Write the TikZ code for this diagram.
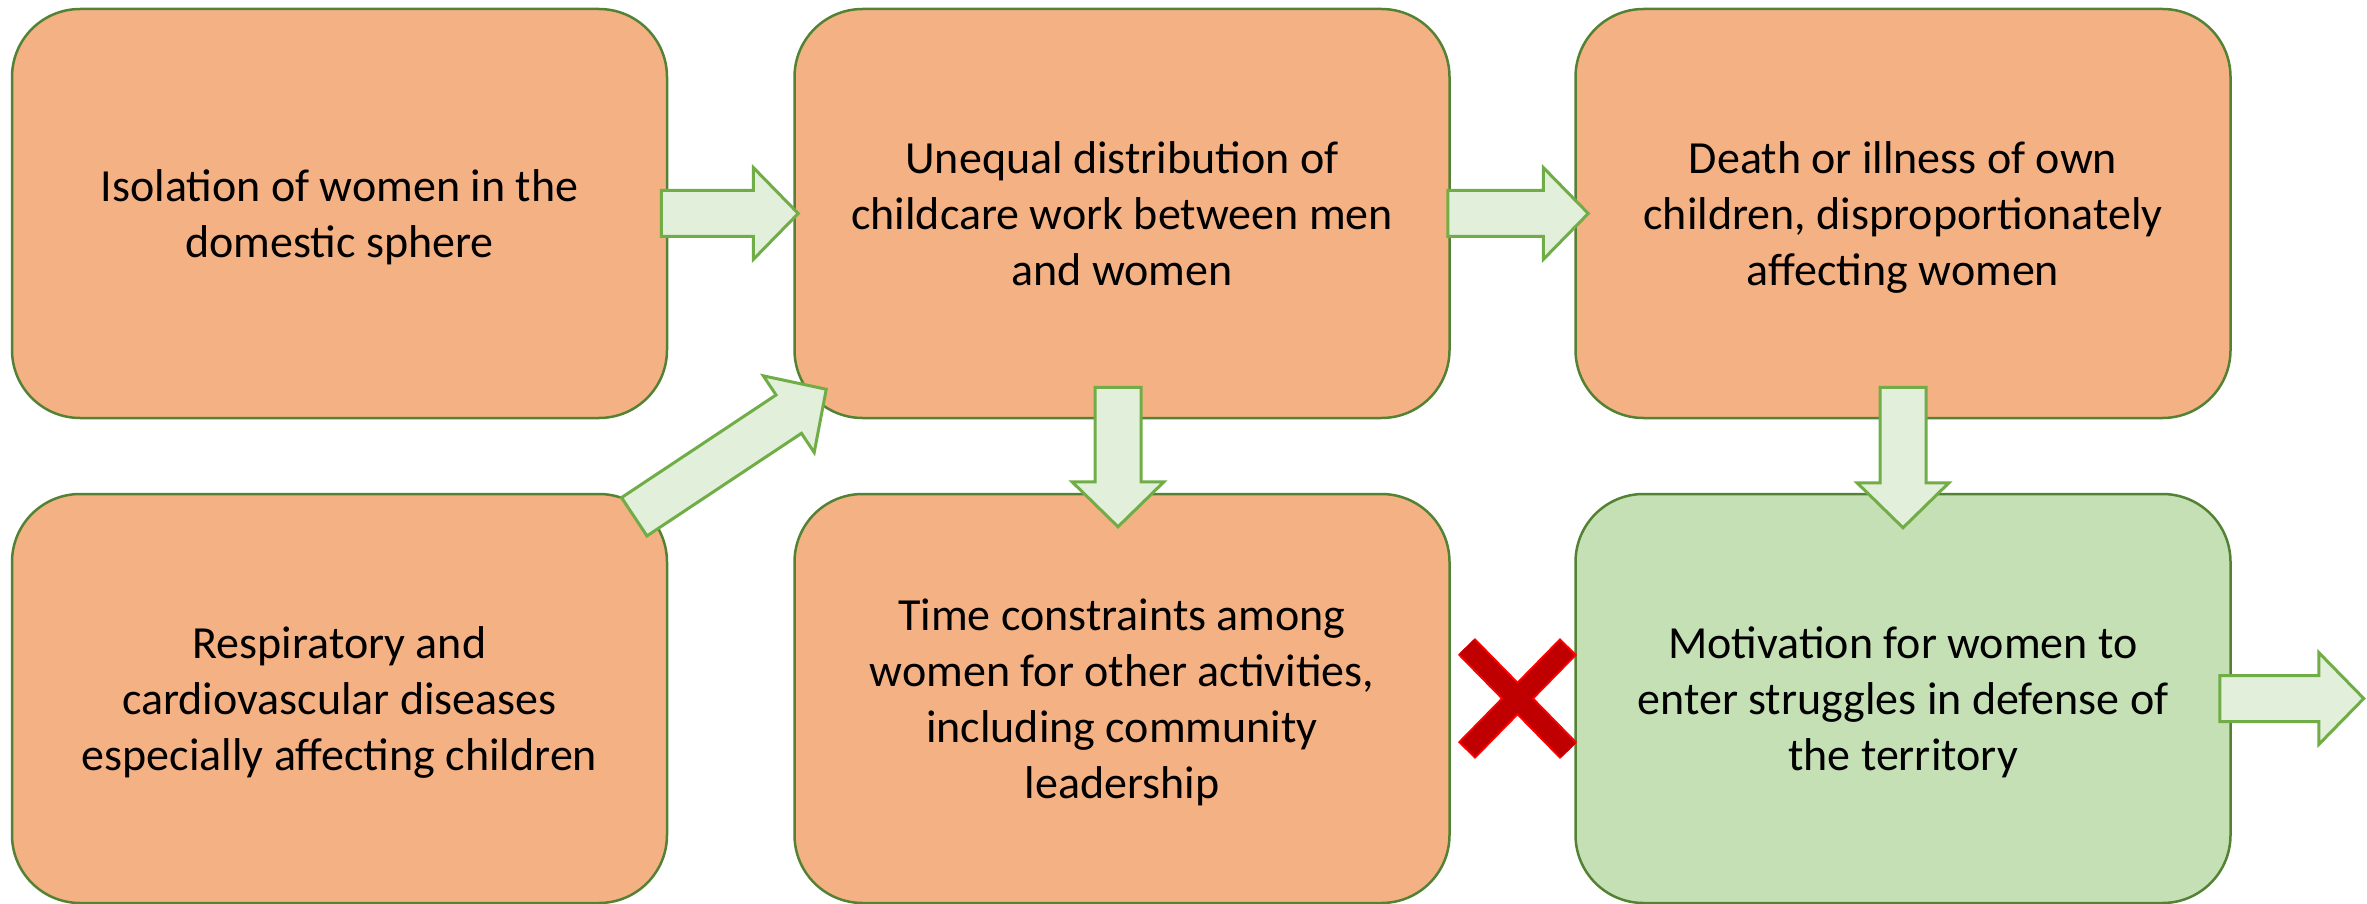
\documentclass[tikz,border=0pt]{standalone}
\usepackage{fontspec}
\setmainfont{Carlito}
\usetikzlibrary{calc}

\definecolor{boxorange}{HTML}{F4B183}
\definecolor{boxgreen}{HTML}{C5E0B4}
\definecolor{boxline}{HTML}{548235}
\definecolor{arrowfill}{HTML}{E2EFDA}
\definecolor{arrowline}{HTML}{70AD47}
\definecolor{crossred}{HTML}{C00000}
\definecolor{crossedge}{HTML}{FF0000}

\tikzset{
  stage/.style={draw=boxline, line width=2.5pt, fill=boxorange, rounded corners=68pt,
    minimum width=655pt, minimum height=409pt, inner sep=0pt, align=center,
    text depth=0pt, font=\fontsize{46}{56}\selectfont},
  goal/.style={stage, fill=boxgreen},
  fatline/.style={draw=arrowline, fill=arrowfill, line width=3pt, line join=miter},
  pics/fatarrow/.style={code={
    \pgfmathsetmacro\fatlen{#1}\pgfmathsetmacro\fatneck{\fatlen-45}
    \path[fatline] (0,-23) -- (\fatneck,-23) -- (\fatneck,-46) -- (\fatlen,0)
      -- (\fatneck,46) -- (\fatneck,23) -- (0,23) -- cycle;}},
  crossbar/.style={line width=24pt, draw=crossedge},
  crossbody/.style={line width=20pt, draw=crossred, shorten <=2pt, shorten >=2pt},
}

% block arrow from tail #1 to tip #2
\newcommand\fatlink[2]{\path let \p1=($(#2)-(#1)$), \n1={atan2(\y1,\x1)}, \n2={veclen(\x1,\y1)}
  in pic[rotate=\n1] at (#1) {fatarrow=\n2};}

\begin{document}
\begin{tikzpicture}[x=1pt, y=-1pt]
    \useasboundingbox (0,0) rectangle (2367,904);

    % top row
    \node[stage] (iso) at (339.5,213.5) {Isolation of women in the\\domestic sphere};
    \node[stage] (uneq) at (1122,213.5) {Unequal distribution of\\childcare work between men\\and women};
    \node[stage] (death) at (1903,213.5) {Death or illness of own\\children, disproportionately\\affecting women};

    % bottom row
    \node[stage] (resp) at (339.5,698.5) {Respiratory and\\cardiovascular diseases\\especially affecting children};
    \node[stage] (time) at (1122,698.5) {Time constraints among\\women for other activities,\\including community\\leadership};
    \node[goal] (motiv) at (1903,698.5) {Motivation for women to\\enter struggles in defense of\\the territory};

    % arrow ends
    \coordinate (t1) at ($(iso.east)+(-7,0)$);
    \coordinate (h1) at ($(uneq.west)+(5,0)$);
    \coordinate (t2) at ($(uneq.east)+(-3,0)$);
    \coordinate (h2) at ($(death.west)+(14,0)$);
    \coordinate (t3) at ($(uneq.south)+(-4,-32)$);
    \coordinate (h3) at ($(time.north)+(-4,34)$);
    \coordinate (t4) at ($(death.south)+(0,-32)$);
    \coordinate (h4) at ($(motiv.north)+(0,35)$);
    \coordinate (t5) at ($(motiv.east)+(-12,0)$);
    \coordinate (h5) at ($(motiv.east)+(132,0)$);
    \coordinate (t6) at ($(resp.north east)+(-34,24)$);
    \coordinate (h6) at ($(uneq.south west)+(33,-30)$);

    \fatlink{t1}{h1}
    \fatlink{t2}{h2}
    \fatlink{t3}{h3}
    \fatlink{t4}{h4}
    \fatlink{t5}{h5}
    \fatlink{t6}{h6}

    % red cross
    \coordinate (nogo) at ($(time.east)!0.5!(motiv.west)+(5,0)$);
    \draw[crossbar] ($(nogo)+(-51,-52)$) -- ($(nogo)+(51,52)$)
                    ($(nogo)+(51,-52)$) -- ($(nogo)+(-51,52)$);
    \draw[crossbody] ($(nogo)+(-51,-52)$) -- ($(nogo)+(51,52)$)
                     ($(nogo)+(51,-52)$) -- ($(nogo)+(-51,52)$);
\end{tikzpicture}
\end{document}
